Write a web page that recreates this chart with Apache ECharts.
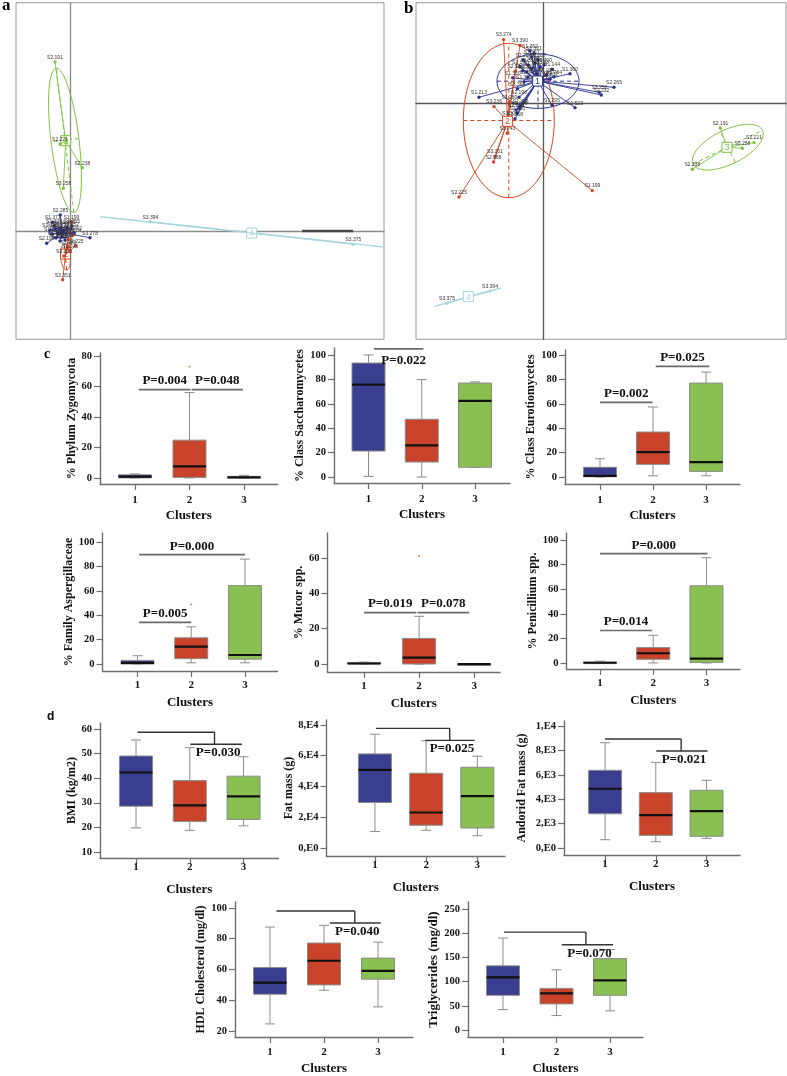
<!DOCTYPE html>
<html><head><meta charset="utf-8">
<script src="https://cdn.jsdelivr.net/npm/echarts@6/dist/echarts.min.js"></script>
<style>html,body{margin:0;padding:0;background:#fff}#c{width:787px;height:1076px}</style>
</head><body><div id="c"></div>
<script>
// ===================== DATA =====================
const clusterTicks = [1, 2, 3];

// ---- Panel a (ordination, arbitrary units) : [x, y, label, cluster]
const pointsA = [
  [-0.97, 1.6, 'S2.285', 1], [-1.73, 0.87, 'S1.371', 1], [2.0, -0.67, 'S3.278', 1], [-2.33, -1.23, 'S2.198', 1],
  [-1.5, 0.2, 'S1.262', 1], [-1.2, -0.2, 'S1.321', 1], [-0.9, 0.3, 'S1.144', 1], [-0.6, 0.1, 'S1.284', 1],
  [-0.3, 0.35, 'S1.380', 1], [-1.8, -0.3, 'S1.213', 1], [-1.4, -0.7, 'S1.523', 1], [-0.8, -0.6, 'S1.295', 1],
  [-0.4, -0.3, 'S2.265', 1], [0.1, 0.2, 'S2.232', 1], [0.4, -0.2, 'S3.252', 1], [-1.0, -1.0, 'S3.362', 1],
  [-0.5, -0.9, 'S2.206', 1], [-1.6, 0.5, 'S1.307', 1], [0.2, 0.5, 'S1.355', 1], [-2.0, 0.1, 'S1.340', 1],
  [0.13, 0.9, 'S1.199', 2], [0.57, -1.47, 'S2.225', 2], [-0.17, -1.57, 'S3.280', 2], [-0.6, -2.5, 'S3.306', 2],
  [-0.73, -4.87, 'S3.351', 2], [0.3, -0.4, 'S3.274', 2], [-0.2, -0.8, 'S3.390', 2], [0.0, -2.0, 'S3.243', 2],
  [-1.5, 16.9, 'S2.191', 3], [-1.0, 8.7, 'S2.221', 3], [1.23, 6.33, 'S2.238', 3], [-0.67, 4.27, 'S3.258', 3],
  [8.03, 0.93, 'S3.394', 4], [28.33, -1.33, 'S3.375', 4]
];
// centroids: [x, y, cluster]
const centroidsA = [[-0.8, -0.15, 1], [-0.45, -2.3, 2], [-0.43, 9.03, 3], [18.17, -0.2, 4]];
// ellipses: [cx, cy, semiMajor, semiMinor, angleDeg, cluster]
const ellipsesA = [[-0.8, -0.2, 1.3, 0.5, 0, 1], [-0.45, -2.6, 1.3, 0.5, 95, 2], [-0.5, 9.07, 7.26, 1.4, 97, 3], [17.15, -0.08, 14.23, 0.02, -6.1, 4]];
const segmentA = [[23.2, 0], [28.3, 0]];

// ---- Panel b
const pointsB = [
  [7.07, 1.6, 'S2.265', 1], [5.6, 1.1, 'S3.252', 1], [5.8, 0.83, 'S2.232', 1], [2.67, 2.96, 'S1.380', 1],
  [0.87, 3.4, 'S1.144', 1], [1.07, 2.66, 'S1.284', 1], [0.67, 2.4, 'S1.302', 1], [-6.43, 0.6, 'S1.213', 1],
  [3.17, -0.44, 'S1.523', 1], [0.87, -0.17, 'S1.295', 1], [-2.43, 0.6, 'S2.198', 1], [-1.33, 5.26, 'S1.262', 1],
  [-0.93, 5.0, 'S1.321', 1], [-2.6, 1.46, 'S3.368', 1], [-3.06, 2.56, 'S1.330', 1], [-2.0, 4.33, 'S2.254', 1],
  [-1.5, 3.83, 'S1.316', 1], [-1.16, 3.5, 'S1.341', 1], [-1.66, 3.16, 'S1.318', 1], [-0.83, 4.0, 'S1.352', 1],
  [-0.33, 3.66, 'S1.332', 1], [-2.06, 3.26, 'S1.350', 1], [-0.66, 2.93, 'S1.311', 1], [0.07, 3.83, 'S1.390', 1],
  [0.34, 2.83, 'S1.224', 1], [-2.83, -1.54, 'S3.268', 1], [-2.6, -1.0, 'S2.260', 1], [-2.4, -0.5, 'S3.299', 1],
  [-2.26, -0.27, 'S1.366', 1], [-2.73, -0.67, 'S2.289', 1], [-1.16, 4.6, 'S1.357', 1], [-0.5, 4.33, 'S1.377', 1],
  [-1.93, 2.16, 'S1.305', 1], [0.0, 2.33, 'S1.258', 1], [-1.56, 2.6, 'S1.348', 1], [-2.33, 3.66, 'S2.197', 1],
  [-3.97, 6.37, 'S3.274', 2], [-2.33, 5.8, 'S3.390', 2], [-2.8, 3.23, 'S2.186', 2], [-4.93, -0.33, 'S3.236', 2],
  [-3.4, 0.1, 'S3.280', 2], [-3.6, -3.0, 'S3.243', 2], [-4.83, -5.33, 'S3.251', 2], [-4.97, -5.87, 'S2.268', 2],
  [-8.43, -9.37, 'S2.225', 2], [4.9, -8.73, 'S1.199', 2], [-3.33, -1.5, 'S3.306', 2],
  [17.7, -2.47, 'S2.191', 3], [21.07, -3.93, 'S2.221', 3], [19.9, -4.5, 'S3.258', 3], [14.9, -6.6, 'S2.238', 3],
  [-5.33, -18.77, 'S3.394', 4], [-9.63, -20.0, 'S3.375', 4]
];
const centroidsB = [[-0.57, 2.23, 1], [-3.57, -1.8, 2], [18.37, -4.4, 3], [-7.5, -19.33, 4]];
const ellipsesB = [[-0.53, 2.21, 4.1, 2.72, 0, 1], [-3.45, -1.72, 4.55, 7.72, 0, 2], [18.45, -4.39, 3.86, 1.71, 26, 3], [-7.5, -19.37, 3.37, 0.02, 15.5, 4]];

// ---- Panel c : box stats [min, Q1, median, Q3, max] for clusters 1..3
const zygomycota      = [[0, 0, 0.8, 2, 2.6], [0, 0.3, 7.6, 24.8, 56], [0, 0, 0.4, 1, 1.7]];
const saccharomycetes = [[0.5, 21.3, 75.7, 93.4, 100], [0, 12.3, 26, 47.3, 79.8], [7.9, 8, 62.3, 77, 77.9]];
const eurotiomycetes  = [[0, 0.3, 1, 8, 15], [1, 10.4, 20.5, 36.9, 57.4], [1, 4.6, 12.3, 77, 86]];
const aspergillaceae  = [[0, 0, 1, 3, 6.8], [1, 4.4, 14.2, 21.5, 30.5], [1, 4, 7.4, 64.3, 86]];
const mucor           = [[0, 0, 0.3, 0.9, 1.1], [0, 0, 3.6, 14.5, 27], [0, 0, 0, 0.1, 0.2]];
const penicillium     = [[0, 0, 0.2, 0.7, 1.5], [0, 3, 7.9, 12.5, 22.5], [0, 0.5, 3.5, 62.8, 85.6]];
// ---- Panel d
const bmi           = [[19.8, 28.6, 42.3, 49, 55.5], [18.8, 22.4, 28.9, 39, 52.4], [20.6, 23.2, 32.6, 40.8, 48.7]];
const fatMass       = [[10700, 29600, 50800, 61200, 74000], [11500, 14800, 23100, 48600, 69700], [8000, 13000, 33800, 52500, 59700]];
const androidFat    = [[680, 2810, 4860, 6370, 8630], [520, 1040, 2700, 4540, 7020], [790, 960, 3030, 4730, 5550]];
const hdl           = [[24.6, 43.9, 51.5, 61.3, 87.6], [46.5, 50, 65.7, 77.2, 88.7], [35.7, 53.7, 59.1, 67.4, 77.8]];
const triglycerides = [[42.3, 71.7, 108.6, 132.5, 189.9], [30, 54, 75.8, 86, 124.3], [39.6, 71.7, 102.5, 147.5, 166]];

// outliers [cluster, value]
const outZygomycota = [[2, 73]];
const outAspergillaceae = [[2, 48.7]];
const outMucor = [[2, 61.3]];

// significance lines (panel c): [fromCluster, toCluster, value, label]
const sigZygomycota = [[1.07, 2.02, 58, 'P=0.004'], [2.04, 2.98, 58, 'P=0.048']];
const sigSaccharomycetes = [[1.1, 2.03, 105, 'P=0.022']];
const sigEurotiomycetes = [[1.0, 1.99, 61.2, 'P=0.002'], [2.05, 3.06, 90.7, 'P=0.025']];
const sigAspergillaceae = [[1.03, 2.0, 34.1, 'P=0.005'], [1.03, 3.0, 89.6, 'P=0.000']];
const sigMucor = [[1.0, 1.95, 29.1, 'P=0.019'], [1.97, 2.91, 29.1, 'P=0.078']];
const sigPenicillium = [[1.0, 1.98, 26.4, 'P=0.014'], [1.0, 3.02, 88.9, 'P=0.000']];
// brackets (panel d): [topFrom, topTo, lowFrom, lowTo, topValue, lowValue, label]
const sigBmi = [[1.03, 2.46, 2.01, 2.97, 58.64, 53.75, 'P=0.030']];
const sigFat = [[1.02, 2.46, 1.98, 2.95, 77820, 69980, 'P=0.025']];
const sigAndroid = [[1.0, 2.5, 2.01, 3.02, 8934, 7951, 'P=0.021']];
const sigHdl = [[1.12, 2.57, 2.11, 3.05, 98.0, 90.2, 'P=0.040']];
const sigTrig = [[1.02, 2.55, 2.1, 3.06, 202.2, 176.2, 'P=0.070']];

// tick values / labels
const ticksPct80 = [0, 20, 40, 60, 80];
const ticksPct100 = [0, 20, 40, 60, 80, 100];
const ticksMucor = [0, 20, 40, 60];
const ticksBmi = [10, 20, 30, 40, 50, 60];
const ticksFat = [0, 20000, 40000, 60000, 80000];
const labelsFat = ['0,E0', '2,E4', '4,E4', '6,E4', '8,E4'];
const ticksAndroid = [0, 2000, 4000, 6000, 8000, 10000];
const labelsAndroid = ['0,E0', '2,E3', '4,E3', '6,E3', '8,E3', '1,E4'];
const ticksHdl = [20, 40, 60, 80, 100];
const ticksTrig = [0, 50, 100, 150, 200, 250];

// ===================== STYLE / LAYOUT =====================
const SERIF = '"Liberation Serif","Times New Roman",serif';
const boxColors = ['#393e8f', '#c8432a', '#88c051'];
const clusterColors = ['#2b3390', '#d5461f', '#7dc242', '#a6d6da'];

const boxPanels = [
  {stats: zygomycota, sig: sigZygomycota, out: outZygomycota, ticks: ticksPct80, name: '% Phylum Zygomycota', kind: 'c',
   pos: {left: 100, top: 353, width: 177.5, height: 131}, y: [-4, 82], x: [0.358, 3.615], nameGap: 20, lm: 11},
  {stats: saccharomycetes, sig: sigSaccharomycetes, ticks: ticksPct100, name: '% Class Saccharomycetes', kind: 'c', below: true,
   pos: {left: 334, top: 348, width: 176, height: 135}, y: [-4.9, 105.7], x: [0.352, 3.657], nameGap: 28, lm: 11},
  {stats: eurotiomycetes, sig: sigEurotiomycetes, ticks: ticksPct100, name: '% Class Eurotiomycetes', kind: 'c',
   pos: {left: 565, top: 350, width: 175, height: 134}, y: [-5.7, 104.1], x: [0.34, 3.64], nameGap: 27, lm: 11},
  {stats: aspergillaceae, sig: sigAspergillaceae, out: outAspergillaceae, ticks: ticksPct100, name: '% Family Aspergillaceae', kind: 'c',
   pos: {left: 102.5, top: 533, width: 175, height: 138}, y: [-5.7, 107.4], x: [0.349, 3.605], nameGap: 27, lm: 9},
  {stats: mucor, sig: sigMucor, out: outMucor, ticks: ticksMucor, name: '% Mucor spp.', kind: 'c',
   pos: {left: 327.5, top: 533, width: 172.5, height: 139}, y: [-4.5, 74.1], x: [0.336, 3.47], nameGap: 20, lm: 9},
  {stats: penicillium, sig: sigPenicillium, ticks: ticksPct100, name: '% Penicillium spp.', kind: 'c',
   pos: {left: 566.5, top: 533, width: 173.5, height: 136}, y: [-4.9, 105.7], x: [0.371, 3.63], nameGap: 28, lm: 9},
  {stats: bmi, sig: sigBmi, ticks: ticksBmi, name: 'BMI (kg/m2)', kind: 'd',
   pos: {left: 100, top: 723, width: 178.5, height: 135}, y: [7.56, 62.4], x: [0.33, 3.65], nameGap: 22, lm: 4},
  {stats: fatMass, sig: sigFat, ticks: ticksFat, tickLabels: labelsFat, name: 'Fat mass (g)', kind: 'd',
   pos: {left: 326.5, top: 720, width: 178.5, height: 136}, y: [-5200, 83250], x: [0.054, 3.54], nameGap: 18, lm: 4},
  {stats: androidFat, sig: sigAndroid, ticks: ticksAndroid, tickLabels: labelsAndroid, name: 'Andorid Fat mass (g)', kind: 'd',
   pos: {left: 564, top: 721, width: 176, height: 134}, y: [-570, 10410], x: [0.19, 3.66], nameGap: 36, lm: 4},
  {stats: hdl, sig: sigHdl, ticks: ticksHdl, name: 'HDL Cholesterol (mg/dl)', kind: 'd',
   pos: {left: 235, top: 902, width: 178, height: 135}, y: [16.1, 103.9], x: [0.352, 3.648], nameGap: 26, lm: 10},
  {stats: triglycerides, sig: sigTrig, ticks: ticksTrig, name: 'Triglycerides (mg/dl)', kind: 'd', nameSize: 13,
   pos: {left: 468, top: 902, width: 175, height: 136}, y: [-14.3, 264.3], x: [0.346, 3.617], nameGap: 24, lm: 10}
];

// ===================== RENDER HELPERS =====================
function ellipseRender(list) {
  return function (params, api) {
    const e = list[params.dataIndex];
    const [cx, cy, a, b, deg, cl] = e;
    const th = deg * Math.PI / 180, ct = Math.cos(th), st = Math.sin(th);
    const P = (u, v) => api.coord([cx + u * ct - v * st, cy + u * st + v * ct]);
    const pts = [];
    for (let i = 0; i <= 90; i++) { const t = i / 90 * 2 * Math.PI; pts.push(P(a * Math.cos(t), b * Math.sin(t))); }
    const col = clusterColors[cl - 1];
    const ch = [{type: 'polyline', shape: {points: pts}, style: {stroke: col, lineWidth: b < 0.1 ? 1.2 : 1, fill: null}}];
    if (b >= 0.1) {
      const p1 = P(-a, 0), p2 = P(a, 0), p3 = P(0, -b), p4 = P(0, b);
      ch.push({type: 'line', shape: {x1: p1[0], y1: p1[1], x2: p2[0], y2: p2[1]}, style: {stroke: col, lineWidth: 1, lineDash: [4, 3]}});
      ch.push({type: 'line', shape: {x1: p3[0], y1: p3[1], x2: p4[0], y2: p4[1]}, style: {stroke: col, lineWidth: 1, lineDash: [4, 3]}});
    }
    return {type: 'group', children: ch};
  };
}
function pointRender(list, cents) {
  return function (params, api) {
    const d = list[params.dataIndex];
    const p = api.coord([d[0], d[1]]);
    const c0 = cents.find(c => c[2] === d[3]);
    const c = api.coord([c0[0], c0[1]]);
    const col = clusterColors[d[3] - 1];
    return {type: 'group', children: [
      {type: 'line', shape: {x1: p[0], y1: p[1], x2: c[0], y2: c[1]}, style: {stroke: col, lineWidth: 0.9}},
      {type: 'circle', shape: {cx: p[0], cy: p[1], r: 1.7}, style: {fill: col}},
      {type: 'text', x: p[0], y: p[1] - 2, z2: 10, style: {text: d[2], fill: '#333', font: '5px "Liberation Sans",sans-serif', align: 'center', verticalAlign: 'bottom'}}
    ]};
  };
}
function centroidRender(cents) {
  return function (params, api) {
    const d = cents[params.dataIndex];
    const p = api.coord([d[0], d[1]]);
    const col = clusterColors[d[2] - 1];
    const s = 10;
    return {type: 'group', children: [
      {type: 'rect', shape: {x: p[0] - s / 2, y: p[1] - s / 2, width: s, height: s}, style: {fill: '#fff', stroke: col, lineWidth: 1}},
      {type: 'text', x: p[0], y: p[1] + 0.5, style: {text: String(d[2]), fill: col, font: '9px "Liberation Sans",sans-serif', align: 'center', verticalAlign: 'middle'}}
    ]};
  };
}
function boxRender(stats) {
  return function (params, api) {
    const i = params.dataIndex;
    const x = clusterTicks[i];
    const s = stats[i];
    const c = v => api.coord([x, v]);
    const pMin = c(s[0]), pQ1 = c(s[1]), pMed = c(s[2]), pQ3 = c(s[3]), pMax = c(s[4]);
    const X = pMin[0], hw = 16.5, cw = 5;
    const g = '#8c8c8c';
    return {type: 'group', children: [
      {type: 'line', shape: {x1: X, y1: pMin[1], x2: X, y2: pQ1[1]}, style: {stroke: g, lineWidth: 1}},
      {type: 'line', shape: {x1: X, y1: pQ3[1], x2: X, y2: pMax[1]}, style: {stroke: g, lineWidth: 1}},
      {type: 'line', shape: {x1: X - cw, y1: pMin[1], x2: X + cw, y2: pMin[1]}, style: {stroke: g, lineWidth: 1}},
      {type: 'line', shape: {x1: X - cw, y1: pMax[1], x2: X + cw, y2: pMax[1]}, style: {stroke: g, lineWidth: 1}},
      {type: 'rect', shape: {x: X - hw, y: pQ3[1], width: 2 * hw, height: Math.max(pQ1[1] - pQ3[1], 1.5)}, style: {fill: boxColors[i], stroke: g, lineWidth: 1}},
      {type: 'line', shape: {x1: X - hw, y1: pMed[1], x2: X + hw, y2: pMed[1]}, style: {stroke: '#111', lineWidth: 2.2}}
    ]};
  };
}
function sigRenderC(panel) {
  return function (params, api) {
    const s = panel.sig[params.dataIndex];
    const p1 = api.coord([s[0], s[2]]), p2 = api.coord([s[1], s[2]]);
    const mid = (p1[0] + p2[0]) / 2;
    const below = !!panel.below;
    return {type: 'group', children: [
      {type: 'line', shape: {x1: p1[0], y1: p1[1], x2: p2[0], y2: p2[1]}, style: {stroke: '#6a6a6a', lineWidth: 1.7}},
      {type: 'text', x: mid + (below ? 5 : 0), y: below ? p1[1] + 5 : p1[1] - 2,
       style: {text: s[3], fill: '#111', font: 'bold 13px ' + SERIF, align: 'center', verticalAlign: below ? 'top' : 'bottom'}}
    ]};
  };
}
function sigRenderD(panel) {
  return function (params, api) {
    const s = panel.sig[params.dataIndex];
    const a1 = api.coord([s[0], s[4]]), a2 = api.coord([s[1], s[4]]);
    const b0 = api.coord([s[1], s[5]]);
    const b1 = api.coord([s[2], s[5]]), b2 = api.coord([s[3], s[5]]);
    const st = {stroke: '#333', lineWidth: 1.4};
    return {type: 'group', children: [
      {type: 'line', shape: {x1: a1[0], y1: a1[1], x2: a2[0], y2: a2[1]}, style: st},
      {type: 'line', shape: {x1: a2[0], y1: a2[1], x2: b0[0], y2: b0[1]}, style: st},
      {type: 'line', shape: {x1: b1[0], y1: b1[1], x2: b2[0], y2: b2[1]}, style: st},
      {type: 'text', x: (b1[0] + b2[0]) / 2 + 2, y: b1[1] + 2,
       style: {text: s[6], fill: '#111', font: 'bold 13px ' + SERIF, align: 'center', verticalAlign: 'top'}}
    ]};
  };
}

// ===================== OPTION =====================
const grids = [], xAxes = [], yAxes = [], series = [];
const AX = '#6e6e6e';

function scatterPanel(idx, pos, xr, yr, pts, cents, ells, lineCol, centZ) {
  grids.push(Object.assign({show: true, borderColor: '#9a9a9a', borderWidth: 1, backgroundColor: 'transparent'}, pos));
  const common = {gridIndex: idx, type: 'value', axisTick: {show: false}, axisLabel: {show: false}, splitLine: {show: false},
                  axisLine: {show: true, onZero: true, lineStyle: {color: lineCol, width: 1.3}}};
  xAxes.push(Object.assign({min: xr[0], max: xr[1]}, common));
  yAxes.push(Object.assign({min: yr[0], max: yr[1]}, common));
  series.push({type: 'custom', xAxisIndex: idx, yAxisIndex: idx, clip: true, renderItem: ellipseRender(ells), data: ells.map(e => [e[0], e[1]]), z: 3});
  series.push({type: 'custom', xAxisIndex: idx, yAxisIndex: idx, clip: true, renderItem: centroidRender(cents), data: cents.map(c => [c[0], c[1]]), z: centZ});
  series.push({type: 'custom', xAxisIndex: idx, yAxisIndex: idx, clip: true, renderItem: pointRender(pts, cents), data: pts.map(p => [p[0], p[1]]), z: 4});
}
scatterPanel(0, {left: 16, top: 2.7, width: 368, height: 336.6}, [-5.4, 31.4], [-10.83, 22.83], pointsA, centroidsA, ellipsesA, '#8a8a8a', 3.5);
series.push({type: 'line', xAxisIndex: 0, yAxisIndex: 0, data: segmentA, symbol: 'none', lineStyle: {color: '#4a4a4a', width: 2.5}, z: 3});
scatterPanel(1, {left: 416, top: 2.7, width: 370, height: 336.6}, [-12.73, 24.27], [-23.6, 10.06], pointsB, centroidsB, ellipsesB, '#555', 5);

boxPanels.forEach((bp, k) => {
  const gi = k + 2;
  grids.push(Object.assign({}, bp.pos));
  xAxes.push({gridIndex: gi, type: 'value', min: bp.x[0], max: bp.x[1],
    name: 'Clusters', nameLocation: 'middle', nameGap: 25,
    nameTextStyle: {fontFamily: SERIF, fontWeight: 'bold', fontSize: 13, color: '#111'},
    axisLine: {show: true, onZero: false, lineStyle: {color: AX, width: 1.4}},
    axisTick: {show: true, length: 6, customValues: clusterTicks, lineStyle: {color: AX, width: 1.2}},
    axisLabel: {customValues: clusterTicks, fontFamily: SERIF, fontWeight: 'bold', fontSize: 11, color: '#111', margin: bp.lm},
    splitLine: {show: false}});
  yAxes.push({gridIndex: gi, type: 'value', min: bp.y[0], max: bp.y[1],
    name: bp.name, nameLocation: 'middle', nameGap: bp.nameGap, nameRotate: 90,
    nameTextStyle: {fontFamily: SERIF, fontWeight: 'bold', fontSize: bp.nameSize || 12, color: '#111'},
    axisLine: {show: true, onZero: false, lineStyle: {color: AX, width: 1.4}},
    axisTick: {show: true, length: 6, customValues: bp.ticks, lineStyle: {color: AX, width: 1.2}},
    axisLabel: {customValues: bp.ticks, fontFamily: SERIF, fontWeight: 'bold', fontSize: 10.5, color: '#111', margin: 8,
      formatter: v => bp.tickLabels ? bp.tickLabels[bp.ticks.indexOf(v)] : String(v)},
    splitLine: {show: false}});
  series.push({type: 'custom', xAxisIndex: gi, yAxisIndex: gi, renderItem: boxRender(bp.stats),
    data: bp.stats.map((s, i) => [clusterTicks[i], s[0], s[4]]), encode: {x: 0, y: [1, 2]}, z: 3});
  series.push({type: 'custom', xAxisIndex: gi, yAxisIndex: gi, renderItem: bp.kind === 'c' ? sigRenderC(bp) : sigRenderD(bp),
    data: bp.sig.map(s => [s[0], bp.kind === 'c' ? s[2] : s[4]]), z: 4});
  if (bp.out) series.push({type: 'scatter', xAxisIndex: gi, yAxisIndex: gi, data: bp.out, symbolSize: 2,
    itemStyle: {color: '#e05a4a'}, z: 4});
});

const option = {
  animation: false,
  backgroundColor: '#fff',
  grid: grids, xAxis: xAxes, yAxis: yAxes, series: series,
  graphic: [
    {type: 'text', left: 2, top: -3, style: {text: 'a', font: 'bold 17px ' + SERIF, fill: '#000'}},
    {type: 'text', left: 404, top: 0, style: {text: 'b', font: 'bold 17px ' + SERIF, fill: '#000'}},
    {type: 'text', left: 44, top: 347, style: {text: 'c', font: 'bold 14px ' + SERIF, fill: '#000'}},
    {type: 'text', left: 47, top: 711, style: {text: 'd', font: 'bold 12px "Liberation Sans",sans-serif', fill: '#000'}}
  ]
};
const chart = echarts.init(document.getElementById('c'), null, {renderer: 'canvas'});
chart.setOption(option);
</script></body></html>
